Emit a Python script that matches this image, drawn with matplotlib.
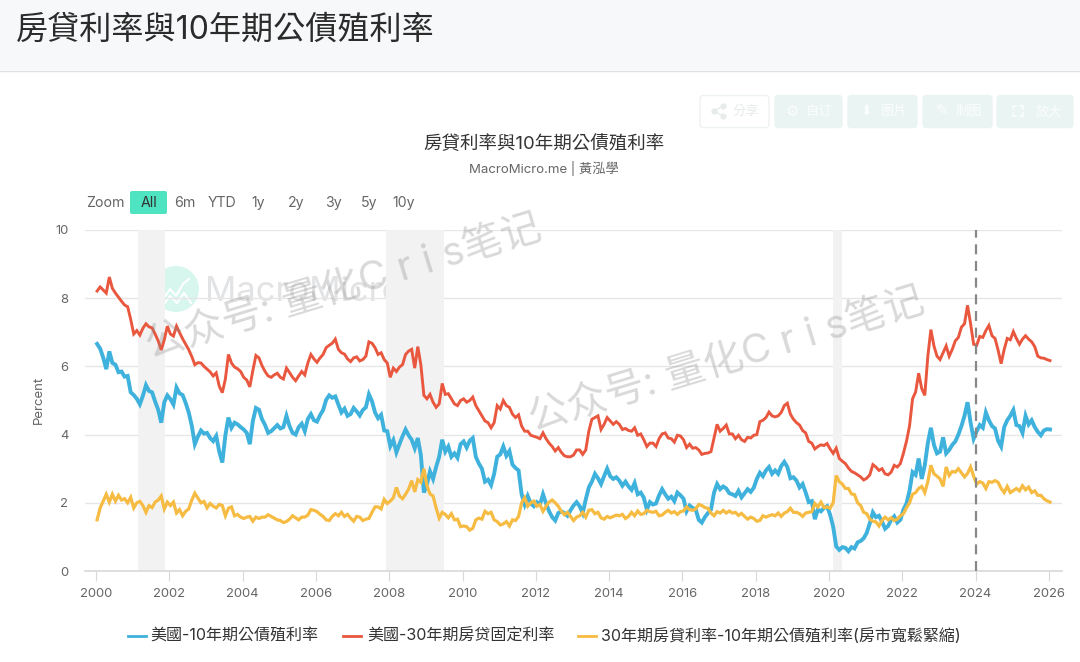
import numpy as np
import matplotlib
matplotlib.use('Agg')
import matplotlib.pyplot as plt
from matplotlib.patches import FancyBboxPatch, Rectangle, Circle

# %%
treasury_10y = [
    6.66, 6.52, 6.26, 5.92, 6.44, 6.10, 6.05, 5.83, 5.85, 5.70, 5.72, 5.24,
    5.16, 5.05, 4.89, 5.14, 5.45, 5.28, 5.24, 4.97, 4.73, 4.35, 4.95, 5.15,
    5.04, 4.88, 5.38, 5.21, 5.16, 4.93, 4.65, 4.26, 3.72, 3.94, 4.12, 4.03,
    4.05, 3.90, 3.81, 3.96, 3.50, 3.18, 3.98, 4.50, 4.20, 4.35, 4.30, 4.22,
    4.15, 4.05, 3.72, 4.40, 4.78, 4.73, 4.45, 4.28, 4.05, 4.10, 4.19, 4.28,
    4.18, 4.22, 4.55, 4.25, 4.05, 4.00, 4.22, 4.32, 4.10, 4.46, 4.60, 4.42,
    4.38, 4.57, 4.72, 5.02, 5.15, 5.08, 5.12, 4.88, 4.65, 4.76, 4.55, 4.60,
    4.78, 4.68, 4.56, 4.72, 4.80, 5.18, 4.98, 4.65, 4.48, 4.58, 4.12, 4.10,
    3.66, 3.84, 3.48, 3.72, 3.95, 4.15, 3.98, 3.85, 3.60, 3.90, 3.40, 2.30,
    2.55, 2.92, 2.70, 3.05, 3.35, 3.85, 3.50, 3.65, 3.35, 3.45, 3.32, 3.72,
    3.80, 3.62, 3.82, 3.90, 3.35, 3.15, 3.00, 2.62, 2.68, 2.52, 2.85, 3.35,
    3.42, 3.65, 3.38, 3.52, 3.12, 3.02, 2.95, 2.25, 1.95, 2.20, 1.98, 1.90,
    2.02, 1.95, 2.25, 1.98, 1.75, 1.58, 1.48, 1.70, 1.75, 1.70, 1.62, 1.78,
    1.92, 2.02, 1.90, 1.70, 2.10, 2.45, 2.62, 2.85, 2.72, 2.55, 2.78, 3.00,
    2.78, 2.70, 2.75, 2.65, 2.50, 2.62, 2.48, 2.38, 2.58, 2.25, 2.30, 2.15,
    1.80, 2.02, 1.95, 1.98, 2.22, 2.40, 2.25, 2.12, 2.18, 2.05, 2.30, 2.22,
    2.12, 1.75, 1.92, 1.85, 1.80, 1.50, 1.42, 1.58, 1.70, 1.80, 2.30, 2.55,
    2.40, 2.48, 2.42, 2.28, 2.25, 2.20, 2.35, 2.16, 2.28, 2.40, 2.32, 2.44,
    2.70, 2.88, 2.78, 2.95, 3.05, 2.85, 2.95, 2.85, 3.08, 3.20, 3.05, 2.72,
    2.75, 2.65, 2.45, 2.55, 2.30, 2.02, 2.05, 1.52, 1.80, 1.75, 1.85, 1.90,
    1.65, 1.30, 0.72, 0.62, 0.70, 0.68, 0.58, 0.70, 0.66, 0.84, 0.88, 0.96,
    1.12, 1.40, 1.72, 1.58, 1.62, 1.45, 1.24, 1.32, 1.50, 1.60, 1.42, 1.50,
    1.80, 1.98, 2.35, 2.90, 2.82, 3.30, 2.70, 3.10, 3.75, 4.20, 3.70, 3.45,
    3.50, 3.92, 3.45, 3.55, 3.70, 3.80, 4.00, 4.25, 4.55, 4.95, 4.35, 3.88,
    4.10, 4.28, 4.20, 4.65, 4.42, 4.25, 4.18, 3.82, 3.65, 4.22, 4.42, 4.55,
    4.72, 4.28, 4.25, 4.05, 4.55, 4.30, 4.42, 4.22, 4.08, 3.98, 4.12, 4.16,
    4.15,
]

mortgage_30y = [
    8.21, 8.33, 8.24, 8.15, 8.62, 8.29, 8.15, 8.03, 7.91, 7.80, 7.75, 7.38,
    6.95, 7.05, 6.92, 7.12, 7.25, 7.16, 7.13, 6.95, 6.75, 6.48, 6.78, 7.18,
    6.95, 6.89, 7.18, 6.99, 6.81, 6.65, 6.49, 6.29, 6.05, 6.11, 6.10, 6.00,
    5.92, 5.84, 5.72, 5.81, 5.42, 5.23, 5.63, 6.35, 6.10, 5.98, 5.93, 5.85,
    5.68, 5.60, 5.40, 5.88, 6.32, 6.25, 6.02, 5.85, 5.72, 5.68, 5.75, 5.80,
    5.68, 5.63, 5.95, 5.82, 5.68, 5.58, 5.72, 5.85, 5.75, 6.10, 6.35, 6.22,
    6.12, 6.25, 6.35, 6.55, 6.62, 6.68, 6.80, 6.50, 6.40, 6.36, 6.22, 6.14,
    6.25, 6.28, 6.16, 6.20, 6.30, 6.72, 6.68, 6.55, 6.35, 6.40, 6.20, 6.10,
    5.68, 5.95, 5.85, 5.98, 6.05, 6.35, 6.45, 6.50, 5.95, 6.58, 6.05, 5.15,
    5.05, 5.18, 4.95, 4.80, 4.90, 5.50, 5.18, 5.20, 5.05, 4.90, 4.85, 5.00,
    5.05, 4.95, 5.00, 5.10, 4.85, 4.70, 4.55, 4.40, 4.35, 4.20, 4.35, 4.85,
    4.75, 5.00, 4.85, 4.80, 4.60, 4.50, 4.58, 4.25, 4.10, 4.10, 3.98, 3.95,
    3.92, 3.88, 4.05, 3.88, 3.75, 3.65, 3.52, 3.62, 3.48, 3.38, 3.35, 3.35,
    3.40, 3.55, 3.55, 3.42, 3.55, 4.10, 4.45, 4.50, 4.55, 4.15, 4.30, 4.50,
    4.40, 4.30, 4.38, 4.30, 4.15, 4.18, 4.12, 4.10, 4.20, 3.98, 4.02, 3.85,
    3.65, 3.75, 3.75, 3.65, 3.88, 4.02, 4.05, 3.90, 3.88, 3.78, 3.98, 3.96,
    3.85, 3.62, 3.72, 3.60, 3.62, 3.55, 3.42, 3.45, 3.46, 3.50, 3.90, 4.30,
    4.10, 4.18, 4.28, 4.02, 4.02, 3.88, 3.98, 3.85, 3.80, 3.92, 3.90, 3.98,
    4.00, 4.38, 4.42, 4.50, 4.66, 4.55, 4.52, 4.55, 4.65, 4.85, 4.92, 4.60,
    4.45, 4.35, 4.28, 4.12, 4.05, 3.80, 3.75, 3.58, 3.65, 3.70, 3.68, 3.74,
    3.58, 3.45, 3.60, 3.30, 3.22, 3.15, 3.02, 2.92, 2.88, 2.82, 2.76, 2.67,
    2.72, 2.82, 3.12, 3.05, 2.95, 3.00, 2.85, 2.82, 2.90, 3.10, 3.05, 3.15,
    3.45, 3.80, 4.25, 5.05, 5.25, 5.80, 5.35, 5.15, 6.30, 7.08, 6.60, 6.30,
    6.20, 6.40, 6.60, 6.30, 6.50, 6.75, 6.85, 7.15, 7.25, 7.79, 7.25, 6.65,
    6.62, 6.88, 6.85, 7.05, 7.20, 6.90, 6.82, 6.48, 6.08, 6.50, 6.82, 6.78,
    7.02, 6.82, 6.65, 6.80, 6.90, 6.80, 6.72, 6.58, 6.30, 6.25, 6.24, 6.20,
    6.17,
]

spread = [
    1.50, 1.85, 2.05, 2.25, 2.02, 2.25, 2.05, 2.22, 2.08, 2.12, 2.00, 2.16,
    1.85, 2.00, 2.04, 1.92, 1.72, 1.92, 1.86, 2.02, 2.08, 2.20, 1.82, 2.02,
    1.92, 2.02, 1.70, 1.80, 1.62, 1.75, 1.82, 2.08, 2.28, 2.14, 2.00, 2.04,
    1.85, 1.98, 1.90, 1.85, 1.95, 1.92, 1.62, 1.84, 1.88, 1.62, 1.66, 1.58,
    1.54, 1.58, 1.60, 1.46, 1.58, 1.54, 1.58, 1.58, 1.65, 1.60, 1.55, 1.50,
    1.48, 1.42, 1.45, 1.52, 1.62, 1.56, 1.50, 1.58, 1.58, 1.64, 1.80, 1.78,
    1.74, 1.66, 1.60, 1.50, 1.48, 1.60, 1.68, 1.62, 1.72, 1.60, 1.66, 1.55,
    1.46, 1.60, 1.58, 1.48, 1.52, 1.54, 1.72, 1.88, 1.88, 1.82, 2.10, 1.98,
    2.05, 2.15, 2.45, 2.20, 2.12, 2.25, 2.40, 2.65, 2.32, 2.68, 2.60, 3.00,
    2.50, 2.26, 2.20, 1.85, 1.55, 1.72, 1.66, 1.56, 1.68, 1.50, 1.52, 1.30,
    1.32, 1.30, 1.20, 1.25, 1.50, 1.55, 1.52, 1.75, 1.68, 1.72, 1.50, 1.45,
    1.35, 1.38, 1.45, 1.32, 1.50, 1.48, 1.60, 2.00, 2.15, 1.90, 2.00, 2.05,
    1.90, 1.95, 1.75, 1.90, 2.02, 2.08, 2.00, 1.90, 1.75, 1.65, 1.72, 1.60,
    1.48, 1.58, 1.62, 1.72, 1.58, 1.78, 1.80, 1.68, 1.72, 1.56, 1.52, 1.60,
    1.56, 1.60, 1.64, 1.62, 1.66, 1.54, 1.60, 1.72, 1.62, 1.76, 1.66, 1.68,
    1.78, 1.74, 1.72, 1.75, 1.62, 1.64, 1.72, 1.78, 1.70, 1.74, 1.66, 1.74,
    1.76, 1.88, 1.80, 1.78, 1.82, 1.95, 1.92, 1.86, 1.84, 1.70, 1.62, 1.74,
    1.70, 1.78, 1.70, 1.76, 1.70, 1.72, 1.63, 1.69, 1.60, 1.52, 1.58, 1.54,
    1.46, 1.48, 1.62, 1.58, 1.62, 1.65, 1.62, 1.70, 1.60, 1.70, 1.74, 1.84,
    1.72, 1.72, 1.68, 1.60, 1.70, 1.72, 1.74, 1.98, 1.88, 2.02, 1.86, 1.88,
    1.84, 2.00, 2.80, 2.62, 2.55, 2.42, 2.42, 2.26, 2.24, 2.00, 1.92, 1.72,
    1.68, 1.52, 1.46, 1.44, 1.32, 1.48, 1.58, 1.50, 1.56, 1.48, 1.52, 1.62,
    1.68, 1.85, 2.00, 2.25, 2.30, 2.42, 2.48, 2.30, 2.62, 3.10, 2.85, 2.78,
    2.70, 2.48, 3.05, 2.80, 2.92, 2.90, 3.00, 2.88, 2.76, 2.86, 3.05, 2.78,
    2.55, 2.62, 2.58, 2.42, 2.62, 2.60, 2.65, 2.60, 2.42, 2.30, 2.48, 2.30,
    2.36, 2.42, 2.35, 2.50, 2.38, 2.46, 2.30, 2.35, 2.22, 2.22, 2.12, 2.06,
    2.02,
]

recessions = [(2001.15, 2001.88), (2007.91, 2009.50), (2020.11, 2020.35)]
x_ticks = list(range(2000, 2027, 2))
y_ticks = [0, 2, 4, 6, 8, 10]
range_buttons = ['6m', 'YTD', '1y', '2y', '3y', '5y', '10y']
range_button_x = [185, 222, 258, 296, 333, 369, 404]
series_names = ['美國-10年期公債殖利率', '美國-30年期房贷固定利率', '30年期房貸利率-10年期公債殖利率(房市寬鬆緊縮)']

TC = ['Inter', 'Noto Sans CJK TC', 'DejaVu Sans']
SC = ['Inter', 'Noto Sans CJK SC', 'DejaVu Sans']
plt.rcParams['font.family'] = TC

BLUE = '#3eb1dc'
RED = '#e9573f'
YELLOW = '#f6bb42'

# %%
W, H = 1080, 662
fig = plt.figure(figsize=(W / 100, H / 100), dpi=100, facecolor='white')

# background layer in pixel coordinates
bg = fig.add_axes([0, 0, 1, 1], zorder=0)
bg.set_xlim(0, W)
bg.set_ylim(H, 0)
bg.axis('off')

bg.add_patch(Rectangle((0, 0), W, 70, fc='#f7f8f9', ec='none'))
bg.plot([0, W], [70.5, 70.5], color='#dfe2e5', lw=1)
bg.text(16, 30, '房貸利率與10年期公債殖利率', fontsize=23.1, color='#2b2b2b', va='center')

BTN = '#eaf4f3'
# x0, x1, label, icon x, text x, fill
buttons = [(700, 769, '分享', 718, 746, '#ffffff'), (775, 842, '自订', 792, 819, BTN),
           (848, 917, '图片', 866, 894, BTN), (923, 992, '制图', 942, 969, BTN),
           (997, 1073, '放大', 1018, 1049, BTN)]
for x0, x1, label, ix, tx, fc in buttons:
    white_btn = fc == '#ffffff'
    bg.add_patch(FancyBboxPatch((x0, 95.5), x1 - x0, 32, boxstyle='round,pad=0,rounding_size=3',
                                fc=fc, ec='#eff2f2' if white_btn else fc, lw=1))
    col = '#e8ebeb' if white_btn else '#fbfdfd'
    bg.text(tx, 112, label, fontsize=9.5, color=col, ha='center', va='center')

# icons: gear, arrow and pencil have glyphs, share and fullscreen are drawn
bg.text(792, 111, '\u2699', fontsize=11, color='#fbfdfd', ha='center', va='center', family='DejaVu Sans')
bg.text(866, 111, '\u2b07', fontsize=10, color='#fbfdfd', ha='center', va='center', family='DejaVu Sans')
bg.text(942, 111, '\u270e', fontsize=11, color='#fbfdfd', ha='center', va='center', family='DejaVu Sans')
bg.plot([723, 714, 723], [106, 111, 116], color='#e8ebeb', lw=1, marker='o', ms=3.5)
for cx, cy, dx, dy in [(1013, 106, 1, 1), (1023, 106, -1, 1), (1013, 116, 1, -1), (1023, 116, -1, -1)]:
    bg.plot([cx + 3 * dx, cx, cx], [cy, cy, cy + 3 * dy], color='#fbfdfd', lw=1.2)

bg.text(544, 144, '房貸利率與10年期公債殖利率', fontsize=13.3, color='#333333', ha='center', va='center')
bg.text(544, 168, 'MacroMicro.me | 黃泓學', fontsize=9.5, color='#666666', ha='center', va='center')

bg.text(105.5, 203, 'Zoom', fontsize=10.2, color='#666666', ha='center', va='center')
bg.add_patch(FancyBboxPatch((130, 191), 37, 23, boxstyle='round,pad=0,rounding_size=2', fc='#4ee3c1', ec='none'))
bg.text(149, 203, 'All', fontsize=10.2, color='#333333', ha='center', va='center')
for label, bx in zip(range_buttons, range_button_x):
    bg.text(bx, 203, label, fontsize=10.2, color='#666666', ha='center', va='center')

bg.text(39, 400, 'Percent', fontsize=9.5, color='#666666', rotation=90, ha='center', va='center')

# logo watermark sits under the plot
bg.add_patch(Circle((176, 289), 23, fc='#d6f6ee', ec='none'))
bg.plot([162, 170, 176, 183, 189], [301, 289, 296, 284, 279], color='white', lw=1.5)
bg.plot([162, 170, 177, 184, 191], [307, 296, 303, 293, 303], color='white', lw=1.5)
bg.text(205, 292, 'MacroMicro', fontsize=25, color='#e2e3e5', va='center')

# %%
# plot area spans 85..1062 px, 2000 at 96 and 2026 at 1049
left, right, top, bottom = 85, 1062, 230, 571
ax = fig.add_axes([left / W, 1 - bottom / H, (right - left) / W, (bottom - top) / H], zorder=1)
ax.patch.set_alpha(0)
ax.set_xlim(2000 + (left - 96) / 36.65, 2000 + (right - 96) / 36.65)
ax.set_ylim(0, 10)

years = 2000 + np.arange(len(treasury_10y)) / 12 + 0.03

for x0, x1 in recessions:
    ax.axvspan(x0, x1, color='#f2f2f2', lw=0, zorder=1)

ax.plot(years, treasury_10y, color=BLUE, lw=2.8, zorder=3, solid_joinstyle='miter')
ax.plot(years, mortgage_30y, color=RED, lw=2.1, zorder=4, solid_joinstyle='miter')
ax.plot(years, spread, color=YELLOW, lw=2.3, zorder=5, solid_joinstyle='miter')
ax.axvline(2024, color='#888888', lw=1.6, ls=(0, (4.5, 3)), zorder=6)

ax.set_xticks(x_ticks)
ax.set_yticks(y_ticks)
ax.grid(axis='y', color='#e6e6e6', lw=1, zorder=0)
ax.set_axisbelow(True)
for side in ['top', 'right', 'left']:
    ax.spines[side].set_visible(False)
ax.spines['bottom'].set_color('#d8d8d8')
ax.spines['bottom'].set_linewidth(1.2)
ax.tick_params(axis='x', length=7, color='#d8d8d8', labelcolor='#666666', labelsize=9.4, pad=5)
ax.tick_params(axis='y', length=0, labelcolor='#666666', labelsize=9.4, pad=12)

# %%
# text watermarks over the chart
over = fig.add_axes([0, 0, 1, 1], zorder=2)
over.set_xlim(0, W)
over.set_ylim(H, 0)
over.axis('off')
for wx, wy in [(150, 358), (533, 431)]:
    over.text(wx, wy, '公众号: 量化C r i s笔记', fontsize=28.8, family=SC, color='#888888', alpha=0.32,
              rotation=17, rotation_mode='anchor', ha='left', va='baseline')

for x0, tx, color, name in zip([128, 343, 578], [150, 367, 601], [BLUE, RED, YELLOW], series_names):
    over.plot([x0, x0 + 18], [636, 636], color=color, lw=2)
    over.text(tx, 636, name, fontsize=11.55, color='#333333', va='center')

fig.savefig('out.png', dpi=100, facecolor='white')
